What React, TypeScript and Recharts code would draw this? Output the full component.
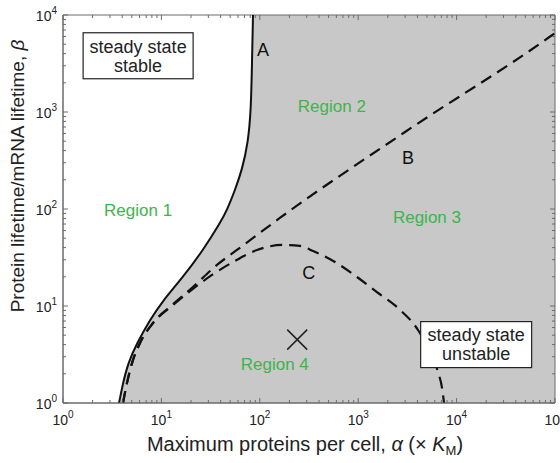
import React from 'react'
import {
  ComposedChart,
  Area,
  Line,
  Scatter,
  XAxis,
  YAxis,
  ReferenceArea,
  ReferenceDot,
  Label,
} from 'recharts'

// axis ranges (log-log)
const X_MAX = 100000
const Y_MAX = 10000

// curve A (solid) - boundary of stability
const alphaA = [3.71, 4.07, 4.58, 5.65, 7.66, 10.1, 16.6, 26.6, 39.5, 46.5, 56.0, 65.9, 75.9, 81.4, 83.4, 85.3]
const betaA = [1, 1.61, 2.58, 4.15, 7.17, 11.0, 19.9, 37.8, 71.7, 97.7, 157, 252, 479, 1050, 3440, 10000]

// curve B (dashed)
const alphaB = [4.07, 4.47, 5.03, 6.06, 8.22, 12.8, 20.9, 36.7, 58.6, 93.7, 160, 2990, 84900, 100000]
const betaB = [1, 1.61, 2.58, 4.15, 6.68, 10.2, 15.7, 26.5, 37.8, 54.0, 80.8, 622, 5790, 6520]

// curve C (dashed)
const alphaC = [4.07, 4.47, 5.03, 6.06, 8.22, 12.8, 20.9, 32.7, 53.4, 93.7, 172, 256, 348, 581, 973, 1550, 2540, 4050, 5370, 6470, 7110, 7450]
const betaC = [1, 1.61, 2.58, 4.15, 6.68, 10.0, 15.0, 20.9, 28.4, 37.8, 42.6, 41.6, 36.9, 28.4, 19.9, 13.9, 9.53, 5.66, 3.36, 2.09, 1.43, 1]

// marked parameter point
const markAlpha = [240]
const markBeta = [4.5]

const xTicks = [1, 10, 100, 1000, 10000, 100000].flatMap((d) => (d === X_MAX ? [d] : [1, 2, 3, 4, 5, 6, 7, 8, 9].map((m) => m * d)))
const yTicks = [1, 10, 100, 1000, 10000].flatMap((d) => (d === Y_MAX ? [d] : [1, 2, 3, 4, 5, 6, 7, 8, 9].map((m) => m * d)))

const toPoints = (xs: number[], ys: number[]) => xs.map((x, i) => ({ x, y: ys[i] }))

const curveA = toPoints(alphaA, betaA)
const curveB = toPoints(alphaB, betaB)
const curveC = toPoints(alphaC, betaC)
const marker = toPoints(markAlpha, markBeta)
const aTop = alphaA[alphaA.length - 1]

const FONT = '"Liberation Sans", Arial, Helvetica, sans-serif'
const GREEN = '#3cb54a'
const FRAME = '#6b6b6b'
const SHADE = '#c8c8c8'

const W = 560
const H = 463
const M = { top: 15, right: 5, left: 13, bottom: 30 }
const PLOT_TOP = M.top
const PLOT_RIGHT = W - M.right

const isDecade = (v: number) => {
  const l = Math.log10(v)
  return Math.abs(Math.round(l) - l) < 1e-9
}

const XTick = ({ x, y, payload }: any) => {
  const v = payload.value
  const major = isDecade(v)
  const len = major ? 5 : 3
  return (
    <g>
      <line x1={x} y1={y} x2={x} y2={y - len} stroke={FRAME} />
      <line x1={x} y1={PLOT_TOP} x2={x} y2={PLOT_TOP + len} stroke={FRAME} />
      {major && (
        <text x={x} y={y + 22} textAnchor="middle" fontSize={14} fill="#222" fontFamily={FONT}>
          10
          <tspan dy={-7} fontSize={10}>
            {Math.round(Math.log10(v))}
          </tspan>
        </text>
      )}
    </g>
  )
}

const YTick = ({ x, y, payload }: any) => {
  const v = payload.value
  const major = isDecade(v)
  const len = major ? 5 : 3
  return (
    <g>
      <line x1={x} y1={y} x2={x + len} y2={y} stroke={FRAME} />
      <line x1={PLOT_RIGHT} y1={y} x2={PLOT_RIGHT - len} y2={y} stroke={FRAME} />
      {major && (
        <text x={x - 6} y={y + 6} textAnchor="end" fontSize={14} fill="#222" fontFamily={FONT}>
          10
          <tspan dy={-7} fontSize={10}>
            {Math.round(Math.log10(v))}
          </tspan>
        </text>
      )}
    </g>
  )
}

const XTitle = () => (
  <text x={305} y={451} textAnchor="middle" fontSize={20} fill="#222" fontFamily={FONT}>
    Maximum proteins per cell, <tspan fontStyle="italic">α</tspan> (× <tspan fontStyle="italic">K</tspan>
    <tspan dy={4} fontSize={13}>M</tspan>
    <tspan dy={-4}>)</tspan>
  </text>
)

const YTitle = () => (
  <text
    x={0}
    y={0}
    transform="translate(24, 176) rotate(-90)"
    textAnchor="middle"
    fontSize={19}
    fill="#222"
    fontFamily={FONT}
  >
    Protein lifetime/mRNA lifetime, <tspan fontStyle="italic">β</tspan>
  </text>
)

const textShape = (str: string, color: string, size: number) => (props: any) => (
  <text x={props.cx} y={props.cy} dy="0.35em" textAnchor="middle" fontSize={size} fill={color} fontFamily={FONT}>
    {str}
  </text>
)

const boxShape = (lines: string[], w: number, h: number) => (props: any) => (
  <g>
    <rect x={props.cx - w / 2} y={props.cy - h / 2} width={w} height={h} fill="#fff" stroke="#222" strokeWidth={1.2} />
    {lines.map((s, i) => (
      <text
        key={i}
        x={props.cx}
        y={props.cy + (i - (lines.length - 1) / 2) * 19}
        dy="0.35em"
        textAnchor="middle"
        fontSize={18}
        fill="#222"
        fontFamily={FONT}
      >
        {s}
      </text>
    ))}
  </g>
)

const CrossShape = (props: any) => {
  const { cx, cy } = props
  const s = 10
  return (
    <g stroke="#222" strokeWidth={1.5}>
      <line x1={cx - s} y1={cy - s} x2={cx + s} y2={cy + s} />
      <line x1={cx - s} y1={cy + s} x2={cx + s} y2={cy - s} />
    </g>
  )
}

export default function App() {
  return (
    <div style={{ position: 'absolute', left: 0, top: 0, width: W, height: H, background: '#fff' }}>
      <ComposedChart width={W} height={H} margin={M}>
        <XAxis
          dataKey="x"
          type="number"
          scale="log"
          domain={[1, X_MAX]}
          allowDataOverflow
          ticks={xTicks}
          interval={0}
          tick={<XTick />}
          tickLine={false}
          tickSize={0}
          tickMargin={0}
          height={30}
          axisLine={{ stroke: FRAME }}
        >
          <Label content={<XTitle />} />
        </XAxis>
        <YAxis
          dataKey="y"
          type="number"
          scale="log"
          domain={[1, Y_MAX]}
          allowDataOverflow
          ticks={yTicks}
          interval={0}
          tick={<YTick />}
          tickLine={false}
          tickSize={0}
          tickMargin={0}
          width={50}
          axisLine={{ stroke: FRAME }}
        >
          <Label content={<YTitle />} />
        </YAxis>

        {/* unstable region: everything right of curve A */}
        <ReferenceArea x1={aTop} x2={X_MAX} y1={1} y2={Y_MAX} fill={SHADE} fillOpacity={1} stroke="none" />
        <Area
          data={curveA}
          dataKey="y"
          type="basis"
          baseValue={1}
          fill={SHADE}
          fillOpacity={1}
          stroke="none"
          isAnimationActive={false}
        />
        <Line data={curveA} dataKey="y" type="basis" stroke="#111" strokeWidth={2} dot={false} isAnimationActive={false} />
        <Line
          data={curveB}
          dataKey="y"
          type="monotone"
          stroke="#111"
          strokeWidth={2.2}
          strokeDasharray="12 7"
          dot={false}
          isAnimationActive={false}
        />
        <Line
          data={curveC}
          dataKey="y"
          type="monotone"
          stroke="#111"
          strokeWidth={2.2}
          strokeDasharray="12 7"
          dot={false}
          isAnimationActive={false}
        />
        <Scatter data={marker} dataKey="y" shape={<CrossShape />} isAnimationActive={false} />

        <ReferenceArea x1={1} x2={X_MAX} y1={1} y2={Y_MAX} fill="none" stroke={FRAME} />

        <ReferenceDot x={5.8} y={3800} shape={boxShape(['steady state', 'stable'], 110, 46)} />
        <ReferenceDot x={15800} y={4.0} shape={boxShape(['steady state', 'unstable'], 111, 46)} />
        <ReferenceDot x={108} y={4350} shape={textShape('A', '#111', 18)} />
        <ReferenceDot x={3200} y={335} shape={textShape('B', '#111', 18)} />
        <ReferenceDot x={315} y={22} shape={textShape('C', '#111', 18)} />
        <ReferenceDot x={5.8} y={98} shape={textShape('Region 1', GREEN, 17)} />
        <ReferenceDot x={540} y={1150} shape={textShape('Region 2', GREEN, 17)} />
        <ReferenceDot x={5000} y={83} shape={textShape('Region 3', GREEN, 17)} />
        <ReferenceDot x={142} y={2.5} shape={textShape('Region 4', GREEN, 17)} />
      </ComposedChart>
    </div>
  )
}
